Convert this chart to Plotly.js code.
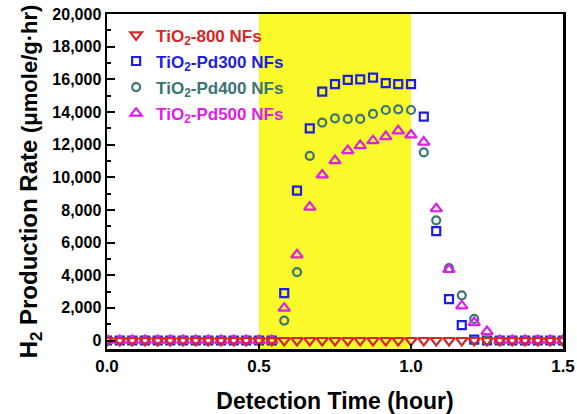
<!DOCTYPE html>
<html><head><meta charset="utf-8">
<script src="https://cdn.plot.ly/plotly-3.0.1.min.js"></script>
<style>html,body{margin:0;padding:0;background:#fff}#chart{width:577px;height:414px}</style>
</head><body><div id="chart"></div>
<script>
// Detection time (hour), sampled every 2.5 min
const timeHours = [0, 0.042, 0.083, 0.125, 0.167, 0.208, 0.25, 0.292, 0.333, 0.375, 0.417, 0.458,
  0.5, 0.542, 0.583, 0.625, 0.667, 0.708, 0.75, 0.792, 0.833, 0.875, 0.917, 0.958, 1.0,
  1.042, 1.083, 1.125, 1.167, 1.208, 1.25, 1.292, 1.333, 1.375, 1.417, 1.458, 1.5];

// H2 production rate (umole/g.hr)
const tio2_800 = [0,0,0,0,0,0,0,0,0,0,0,0, 0,0,0,0,0,0,0,0,0,0,0,0,0, 0,0,0,0,0,0,0,0,0,0,0,0];
const tio2_pd300 = [0,0,0,0,0,0,0,0,0,0,0,0, 0,0,2900,9180,13000,15250,15700,15960,16000,16100,15760,15700,15700,
  13710,6700,2540,940,60,0,0,0,0,0,0,0];
const tio2_pd400 = [0,0,0,0,0,0,0,0,0,0,0,0, 0,0,1220,4190,11310,13350,13610,13570,13570,13880,14120,14160,14120,
  11530,7360,4430,2770,1320,0,0,0,0,0,0,0];
const tio2_pd500 = [0,0,0,0,0,0,0,0,0,0,0,0, 0,0,1980,5250,8170,10140,11020,11630,11940,12240,12490,12840,12590,
  12150,8070,4350,2120,1100,550,0,0,0,0,0,0];

const seriesNames = ['TiO<sub>2</sub>-Pd300 NFs', 'TiO<sub>2</sub>-Pd400 NFs', 'TiO<sub>2</sub>-Pd500 NFs', 'TiO<sub>2</sub>-800 NFs'];
const illuminationWindow = [0.5, 1.0];

const colors = {red:'#d42828', blue:'#1e1ee0', teal:'#3b7474', magenta:'#dd1ee8'};
const FONT = "Arial, 'Liberation Sans', sans-serif";

function mk(y, name, color, symbol, size, rank){
  return {
    x: timeHours, y: y, type:'scatter', mode:'markers',
    name: '<b><span style="color:'+color+'">'+name+'</span></b>',
    legendrank: rank, legendgroup: 'g'+rank,
    marker:{symbol:symbol, size:size, color:color, line:{color:color, width:2.2}},
    hoverinfo:'skip'
  };
}

const data = [
  mk(tio2_pd300, seriesNames[0], colors.blue, 'square-open', 8, 2),
  mk(tio2_pd400, seriesNames[1], colors.teal, 'circle-open', 8, 3),
  mk(tio2_pd500, seriesNames[2], colors.magenta, 'triangle-up-open', 10, 4),
  mk(tio2_800, seriesNames[3], colors.red, 'triangle-down-open', 10, 1)
];

const layout = {
  width:577, height:414,
  margin:{l:107, r:14, t:14, b:65},
  paper_bgcolor:'#fff', plot_bgcolor:'#fff',
  font:{family:FONT, color:'#000'},
  showlegend:true,
  legend:{x:0.02, y:0.99, xanchor:'left', yanchor:'top', bgcolor:'rgba(0,0,0,0)',
    font:{size:17, family:FONT, weight:700}, traceorder:'grouped', tracegroupgap:1, itemwidth:30},
  xaxis:{range:[0,1.5], dtick:0.5, tick0:0, tickformat:'.1f',
    ticks:'inside', ticklen:5, tickwidth:2, tickcolor:'#000',
    showline:true, linewidth:2.5, linecolor:'#000', mirror:true,
    showgrid:false, zeroline:false,
    tickfont:{size:17, family:FONT, weight:700},
    title:{text:'<b>Detection Time (hour)</b>', font:{size:23, family:FONT}, standoff:25}},
  yaxis:{range:[-520,20000], dtick:2000, tick0:0, tickformat:',d',
    ticks:'inside', ticklen:8, tickwidth:2, tickcolor:'#000',
    minor:{dtick:1000, ticks:'inside', ticklen:4, tickwidth:2, tickcolor:'#000'},
    showline:true, linewidth:2.5, linecolor:'#000', mirror:true,
    showgrid:false, zeroline:false,
    tickfont:{size:16, family:FONT, weight:700},
    title:{text:'<b>H<sub>2</sub> Production Rate </b><span style="font-size:22px"><b>(μmole/g·hr)</b></span>', font:{size:24, family:FONT}, standoff:8}},
  shapes:[{type:'rect', xref:'x', yref:'paper', x0:illuminationWindow[0], x1:illuminationWindow[1], y0:0, y1:1,
    fillcolor:'#fafa2a', line:{width:0}, layer:'below'}]
};

Plotly.newPlot('chart', data, layout, {displayModeBar:false, staticPlot:true});
</script>
</body></html>
